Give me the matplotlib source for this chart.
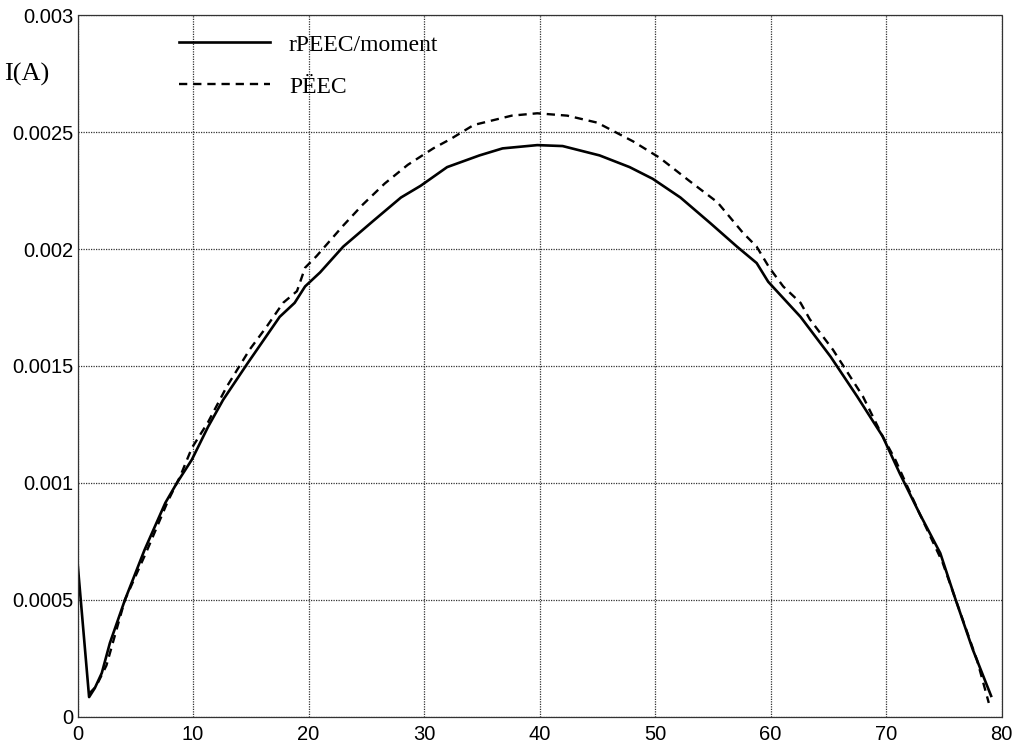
import numpy as np
import matplotlib.pyplot as plt

# ---------- data ---------- #

# rPEEC/moment (solid)
rpeecX = [0, 1.0, 1.5, 2.1, 2.8, 4.1, 5.8, 7.6, 8.6, 9.9, 11.3, 12.6, 14.7, 17.5,
          18.8, 19.7, 21.0, 23.0, 25.6, 28.0, 29.7, 32.0, 34.8, 36.8, 39.8, 42.0,
          45.2, 47.8, 49.8, 52.2, 54.8, 57.1, 58.8, 59.8, 62.6, 65.2, 67.5, 69.7,
          71.2, 72.9, 74.7, 75.9, 77.5, 79.1]
rpeecY = [0.00066, 0.000085, 0.000124, 0.000188, 0.000316, 0.0005, 0.000714,
          0.000915, 0.001, 0.0011, 0.00124, 0.001355, 0.00151, 0.00171, 0.00177,
          0.00184, 0.0019, 0.00201, 0.00212, 0.00222, 0.00227, 0.00235, 0.0024,
          0.00243, 0.002444, 0.00244, 0.0024, 0.00235, 0.0023, 0.00222, 0.00211,
          0.00201, 0.00194, 0.00186, 0.00171, 0.00154, 0.00137, 0.0012, 0.00104,
          0.00087, 0.0007, 0.00052, 0.00029, 0.00009]

# PEEC (dashed)
peecX = [1.0, 1.6, 2.5, 4.1, 6.0, 7.8, 8.9, 9.9, 11.3, 12.9, 14.9, 16.4, 17.8,
         19.0, 19.7, 20.7, 23.0, 24.7, 26.6, 28.6, 30.8, 32.3, 34.3, 37.6, 39.8,
         42.4, 45.0, 48.1, 50.4, 53.0, 55.4, 57.6, 58.8, 59.9, 61.1, 62.6, 63.4,
         65.4, 68.0, 69.7, 70.8, 72.9, 74.9, 77.9, 78.9]
peecY = [0.0001, 0.00013, 0.00022, 0.0005, 0.00071, 0.00092, 0.00103, 0.00115,
         0.00126, 0.00141, 0.00157, 0.00167, 0.00177, 0.00182, 0.00192, 0.00197,
         0.0021, 0.00219, 0.00228, 0.00236, 0.00243, 0.00247, 0.00253, 0.00257,
         0.00258, 0.00257, 0.00254, 0.00246, 0.00239, 0.00229, 0.0022, 0.00207,
         0.00201, 0.00192, 0.00184, 0.00177, 0.0017, 0.00157, 0.00137, 0.0012,
         0.0011, 0.00087, 0.00066, 0.00024, 0.00006]

xTicks = [0, 10, 20, 30, 40, 50, 60, 70, 80]
yTicks = [0, 0.0005, 0.001, 0.0015, 0.002, 0.0025, 0.003]
yTickLabels = ['0', '0.0005', '0.001', '0.0015', '0.002', '0.0025', '0.003']
legendLabels = ['rPEEC/moment', 'P\u00cbEC']


# ---------------- plot ---------------- #

plt.rcParams['font.family'] = ['Liberation Serif', 'DejaVu Serif']

fig = plt.figure(figsize=(10.15, 7.51), dpi=100)
ax = fig.add_axes([0.0764, 0.0453, 0.9103, 0.9347])

ax.plot(rpeecX, rpeecY, color='black', linewidth=1.9, label=legendLabels[0])
ax.plot(peecX, peecY, color='black', linewidth=1.7, dashes=(3.5, 2.5),
        label=legendLabels[1])

ax.set_xlim(0, 80)
ax.set_ylim(0, 0.003)
ax.set_xticks(xTicks)
ax.set_yticks(yTicks)
ax.set_yticklabels(yTickLabels)
ax.tick_params(length=0, labelsize=14.5, pad=3)
ax.tick_params(axis='x', pad=6)
for lab in ax.get_xticklabels() + ax.get_yticklabels():
    lab.set_family(['Liberation Sans', 'DejaVu Sans'])

ax.grid(True, linestyle=(0, (1, 1)), color='#333333', linewidth=0.9)
for sp in ax.spines.values():
    sp.set_linestyle((0, (1, 1)))
    sp.set_color('#333333')
    sp.set_linewidth(0.9)

fig.text(0.004, 0.893, 'I(A)', fontsize=19)

ax.legend(loc='upper left', bbox_to_anchor=(0.087, 1.003), frameon=False,
          fontsize=17, handlelength=3.85, handletextpad=0.8, labelspacing=0.87)

fig.savefig('out.png', dpi=100)
